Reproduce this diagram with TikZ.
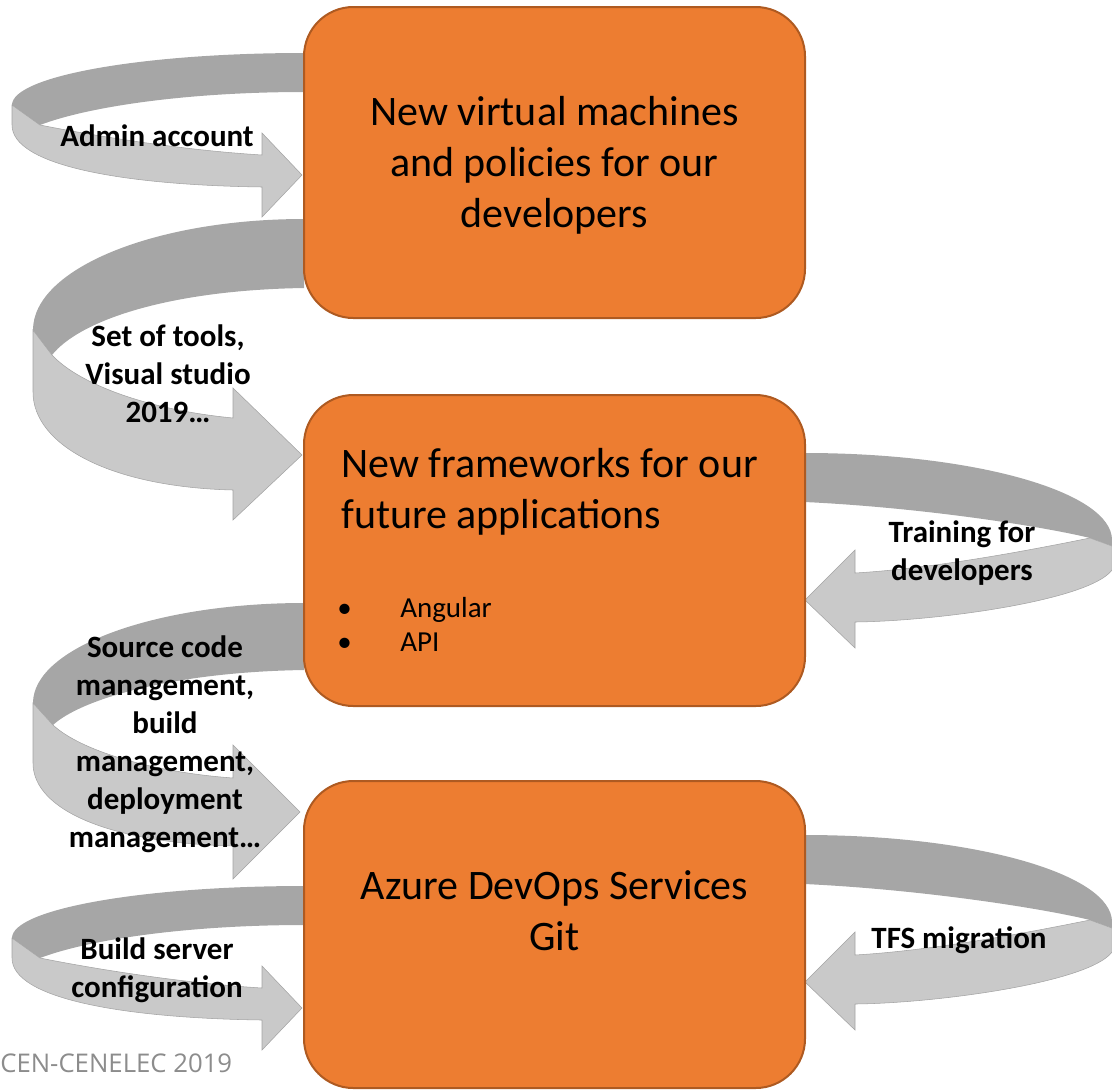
\documentclass[tikz,border=0pt]{standalone}
\usepackage{fontspec}
\setmainfont{Carlito}
\newfontfamily\footfont{Open Sans}
\usetikzlibrary{positioning}

\definecolor{phasefill}{HTML}{ED7D31}
\definecolor{phaseedge}{HTML}{AE5A21}
\definecolor{bandback}{HTML}{A6A6A6}
\definecolor{bandfront}{HTML}{C9C9C9}
\definecolor{bandedge}{HTML}{A3A3A3}
\definecolor{footgray}{HTML}{8C8C8C}

\tikzset{
  phase/.style={draw=phaseedge, line width=1.5pt, fill=phasefill,
    rounded corners=37pt, minimum width=375.75pt, minimum height=233.25pt,
    inner sep=0pt},
  phasetext/.style={font=\fontsize{31.5}{38.25}\selectfont, inner sep=0pt},
  bullettext/.style={font=\fontsize{21.75}{26}\selectfont, inner sep=0pt},
  looplabel/.style={font=\bfseries\fontsize{23.25}{28.5}\selectfont,
    align=center, inner sep=0pt},
  backband/.style={fill=bandback},
  frontband/.style={fill=bandfront, draw=bandedge, line width=0.4pt},
  % small loop on the left, pointing right
  pics/leftloop/.style={code={
    \fill[backband] (304,53) .. controls (143,53) and (12,76) .. (12,105)
      -- (40,125) .. controls (90,106) and (190,92) .. (304,92) -- cycle;
    \filldraw[frontband] (12,105) -- (40,125)
      .. controls (90,135) and (180,150) .. (262,155) -- (262,133)
      -- (302,175) -- (262,217) -- (262,187)
      .. controls (120,185) and (12,165) .. (12,125) -- cycle;
  }},
  % loop on the right, pointing left
  pics/rightloop/.style={code={
    \fill[backband] (805,453) .. controls (975,453) and (1112,492) .. (1112,540)
      -- (1112,546) -- (1090,538)
      .. controls (1050,528) and (930,508) .. (805,502) -- cycle;
    \filldraw[frontband] (1112,546) -- (1090,538)
      .. controls (1040,548) and (940,568) .. (855,573) -- (855,550)
      -- (805,600) -- (855,648) -- (855,622)
      .. controls (940,621) and (1090,600) .. (1112,570) -- cycle;
  }}
}

\begin{document}
\begin{tikzpicture}[x=0.75pt, y=-0.75pt]
\useasboundingbox (0,0) rectangle (1112,1090);

% loops round the phases
\pic at (0,0) {leftloop};
\pic at (0,833) {leftloop};
\pic at (0,0) {rightloop};
\pic at (0,382) {rightloop};

% tools: first phase to second
\fill[backband] (304,219) .. controls (154,219) and (33,269) .. (33,330)
  -- (52,355) .. controls (80,320) and (170,290) .. (304,288) -- cycle;
\filldraw[frontband] (33,330) -- (52,355)
  .. controls (80,385) and (150,410) .. (233,418) -- (233,388)
  -- (302,455) -- (233,520) -- (233,490)
  .. controls (110,487) and (33,445) .. (33,392) -- cycle;

% source code: second phase to third
\fill[backband] (304,603) .. controls (154,603) and (33,648) .. (33,703)
  -- (53,725) .. controls (80,700) and (170,672) .. (304,670) -- cycle;
\filldraw[frontband] (33,703) -- (53,725)
  .. controls (80,750) and (150,772) .. (233,778) -- (233,745)
  -- (300,812) -- (233,879) -- (233,846)
  .. controls (110,843) and (33,810) .. (33,763) -- cycle;

% phases
\node[phase] (vm) at (554.5,162.5) {};
\node[phase] (fw) at (554.5,550.5) {};
\node[phase, minimum height=230.25pt] (ado) at (554.5,934.5) {};

% base of a multi-line node = last line
\node[phasetext, align=center, anchor=base] (vmtext) at (554.5,227)
  {New virtual machines\\and policies for our\\developers};
\node[phasetext, align=left, anchor=base west] (fwtext) at (341,528)
  {New frameworks for our\\future applications};
\node[bullettext, anchor=base west] (dot1) at (337,617) {\textbullet};
\node[bullettext, anchor=base west] (angular) at (400,617) {Angular};
\node[bullettext, anchor=base west] (dot2) at (337,651) {\textbullet};
\node[bullettext, anchor=base west] (api) at (400,651) {API};
\node[phasetext, align=center, anchor=base] (adotext) at (554.5,950)
  {Azure DevOps Services\\Git};

% labels on the loops
\node[looplabel, anchor=base] (adminlbl) at (157,146) {Admin account};
\node[looplabel, anchor=base] (toolslbl) at (168,422)
  {Set of tools,\\Visual studio\\2019\dots};
\node[looplabel, anchor=base] (traininglbl) at (962,580)
  {Training for\\developers};
\node[looplabel, anchor=base] (sourcelbl) at (165,847)
  {Source code\\management,\\build\\management,\\deployment\\management\dots};
\node[looplabel, anchor=base] (buildlbl) at (157,997)
  {Build server\\configuration};
\node[looplabel, anchor=base] (tfslbl) at (959,948) {TFS migration};

\node[font=\footfont\fontsize{19.3}{23}\selectfont, text=footgray,
  anchor=base west, inner sep=0pt] (footer) at (0,1072) {CEN-CENELEC 2019};
\end{tikzpicture}
\end{document}
